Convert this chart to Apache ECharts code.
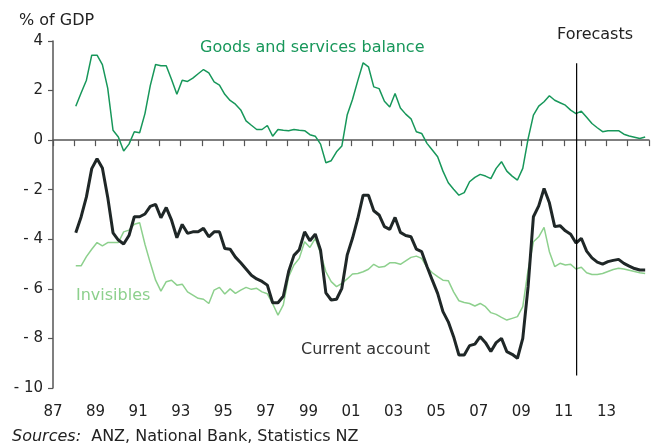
<!DOCTYPE html>
<html>
<head>
<meta charset="utf-8">
<script src="https://cdn.jsdelivr.net/npm/echarts@6/dist/echarts.min.js"></script>
<style>
  html, body { margin: 0; padding: 0; background: #fff; }
  #chart { width: 657px; height: 444px; }
</style>
</head>
<body>
<div id="chart"></div>
<script>
// quarterly, first observation early 1988
const firstDate = 1988.07;
const quarterStep = 0.25;
const forecastStart = 2011.6;
const forecastSpan = [3.1, -9.5];

const goodsServices = [
  1.37, 1.9, 2.42, 3.43, 3.43, 3.05, 2.1, 0.4, 0.13, -0.44,
  -0.16, 0.34, 0.3, 1.07, 2.2, 3.05, 3.0, 3.0, 2.45, 1.85,
  2.42, 2.37, 2.5, 2.68, 2.85, 2.71, 2.35, 2.22, 1.85, 1.6,
  1.45, 1.22, 0.78, 0.6, 0.43, 0.43, 0.59, 0.16, 0.43, 0.4,
  0.38, 0.43, 0.4, 0.38, 0.22, 0.16, -0.16, -0.91, -0.83, -0.47,
  -0.24, 1.01, 1.64, 2.4, 3.12, 2.96, 2.15, 2.08, 1.57, 1.34,
  1.88, 1.3, 1.05, 0.86, 0.34, 0.27, -0.13, -0.4, -0.67, -1.25,
  -1.72, -1.98, -2.22, -2.12, -1.68, -1.5, -1.38, -1.45, -1.55, -1.14,
  -0.87, -1.25, -1.45, -1.61, -1.14, 0.05, 1.01, 1.37, 1.55, 1.79,
  1.61, 1.51, 1.41, 1.21, 1.07, 1.17, 0.92, 0.67, 0.5, 0.34,
  0.38, 0.38, 0.38, 0.24, 0.17, 0.12, 0.07, 0.13
];

const currentAccount = [
  -3.74, -3.1, -2.29, -1.15, -0.75, -1.12, -2.3, -3.74, -4.03, -4.19,
  -3.85, -3.09, -3.09, -2.98, -2.67, -2.59, -3.13, -2.72, -3.23, -3.94,
  -3.4, -3.76, -3.7, -3.7, -3.56, -3.9, -3.7, -3.7, -4.37, -4.4,
  -4.72, -4.95, -5.2, -5.45, -5.6, -5.7, -5.85, -6.56, -6.56, -6.3,
  -5.3, -4.65, -4.42, -3.7, -4.06, -3.79, -4.44, -6.16, -6.45, -6.42,
  -5.98, -4.64, -3.96, -3.16, -2.22, -2.22, -2.85, -3.02, -3.49, -3.6,
  -3.12, -3.72, -3.85, -3.9, -4.4, -4.5, -5.1, -5.65, -6.18, -6.92,
  -7.33, -7.93, -8.67, -8.67, -8.29, -8.23, -7.93, -8.17, -8.53, -8.17,
  -8.0, -8.53, -8.64, -8.8, -8.0, -5.91, -3.09, -2.65, -1.95, -2.53,
  -3.49, -3.45, -3.66, -3.8, -4.15, -3.96, -4.48, -4.75, -4.92, -5.0,
  -4.9, -4.85, -4.81, -4.97, -5.08, -5.18, -5.24, -5.24
];

const invisibles = [
  -5.07, -5.07, -4.7, -4.4, -4.13, -4.27, -4.13, -4.13, -4.13, -3.7,
  -3.63, -3.39, -3.33, -4.2, -4.95, -5.65, -6.09, -5.71, -5.65, -5.85,
  -5.81, -6.12, -6.25, -6.38, -6.42, -6.59, -6.05, -5.94, -6.21, -6.0,
  -6.18, -6.05, -5.94, -6.02, -5.98, -6.12, -6.2, -6.6, -7.06, -6.65,
  -5.51, -5.04, -4.77, -4.1, -4.33, -3.96, -4.57, -5.31, -5.71, -5.91,
  -5.78, -5.6, -5.4, -5.38, -5.31, -5.21, -5.01, -5.13, -5.1, -4.95,
  -4.95, -5.01, -4.87, -4.73, -4.68, -4.77, -5.13, -5.35, -5.51, -5.65,
  -5.67, -6.12, -6.48, -6.55, -6.59, -6.69, -6.59, -6.72, -6.96, -7.03,
  -7.15, -7.26, -7.19, -7.12, -6.72, -5.24, -4.1, -3.9, -3.52, -4.5,
  -5.1, -4.97, -5.04, -5.01, -5.2, -5.13, -5.35, -5.42, -5.42, -5.38,
  -5.3, -5.22, -5.17, -5.2, -5.25, -5.3, -5.35, -5.38
];

const yTicks = [-10, -8, -6, -4, -2, 0, 2, 4];

const FONT = '"DejaVu Sans", Verdana, sans-serif';
const DARK = '#222';
const GREEN = '#17975a';
const LIGHT_GREEN = '#8dd08d';
const CA_COLOR = '#1f2727';

function withDates(values) {
  return values.map((v, i) => [firstDate + i * quarterStep, v]);
}

function yLabel(v) {
  return v < 0 ? '- ' + Math.abs(v) : String(v);
}

const chart = echarts.init(document.getElementById('chart'), null, { renderer: 'canvas' });

chart.setOption({
  backgroundColor: '#fff',
  animation: false,
  grid: { left: 53, right: 8, top: 41, bottom: 56 },
  xAxis: [
    {
      type: 'value',
      min: 1987,
      max: 2015,
      interval: 1,
      position: 'bottom',
      axisLine: { onZero: true, lineStyle: { color: '#555', width: 1.5 } },
      axisTick: { length: 6, lineStyle: { color: '#555', width: 1.2 } },
      axisLabel: { show: false },
      splitLine: { show: false }
    },
    {
      type: 'value',
      min: 1987,
      max: 2015,
      interval: 2,
      position: 'bottom',
      axisLine: { show: false, onZero: false },
      axisTick: { show: false },
      splitLine: { show: false },
      axisLabel: {
        margin: 17,
        color: DARK,
        fontFamily: FONT,
        fontSize: 15,
        formatter: v => (v > 2013 ? '' : String(v).slice(2))
      }
    }
  ],
  yAxis: {
    type: 'value',
    min: yTicks[0],
    max: yTicks[yTicks.length - 1],
    interval: 2,
    axisLine: { show: true, lineStyle: { color: '#555', width: 1.5 } },
    axisTick: { show: true, length: 5, lineStyle: { color: '#555', width: 1.2 } },
    splitLine: { show: false },
    axisLabel: {
      margin: 10,
      color: DARK,
      fontFamily: FONT,
      fontSize: 15,
      formatter: yLabel
    }
  },
  series: [
    {
      name: 'Invisibles',
      type: 'line',
      xAxisIndex: 0,
      showSymbol: false,
      data: withDates(invisibles),
      lineStyle: { color: LIGHT_GREEN, width: 1.5 },
      z: 2
    },
    {
      name: 'Goods and services balance',
      type: 'line',
      xAxisIndex: 0,
      showSymbol: false,
      data: withDates(goodsServices),
      lineStyle: { color: GREEN, width: 1.5 },
      z: 3
    },
    {
      name: 'Current account',
      type: 'line',
      xAxisIndex: 0,
      showSymbol: false,
      data: withDates(currentAccount),
      lineStyle: { color: CA_COLOR, width: 3 },
      z: 4
    },
    {
      name: 'Forecasts',
      type: 'line',
      xAxisIndex: 0,
      showSymbol: false,
      data: forecastSpan.map(y => [forecastStart, y]),
      lineStyle: { color: '#000', width: 1.2 },
      z: 5
    }
  ],
  graphic: [
    { type: 'text', left: 19, top: 13, style: { text: '% of GDP', fill: DARK, font: '16px ' + FONT } },
    { type: 'text', left: 200, top: 40, style: { text: 'Goods and services balance', fill: GREEN, font: '16px ' + FONT } },
    { type: 'text', left: 557, top: 27, style: { text: 'Forecasts', fill: DARK, font: '16px ' + FONT } },
    { type: 'text', left: 76, top: 288, style: { text: 'Invisibles', fill: LIGHT_GREEN, font: '16px ' + FONT } },
    { type: 'text', left: 301, top: 342, style: { text: 'Current account', fill: '#333', font: '16px ' + FONT } },
    {
      type: 'text', left: 12, top: 429,
      style: {
        rich: {
          i: { fontStyle: 'italic', fontFamily: FONT, fontSize: 16, fill: DARK },
          n: { fontFamily: FONT, fontSize: 16, fill: DARK }
        },
        text: '{i|Sources:}{n|  ANZ, National Bank, Statistics NZ}'
      }
    }
  ]
});
</script>
</body>
</html>
